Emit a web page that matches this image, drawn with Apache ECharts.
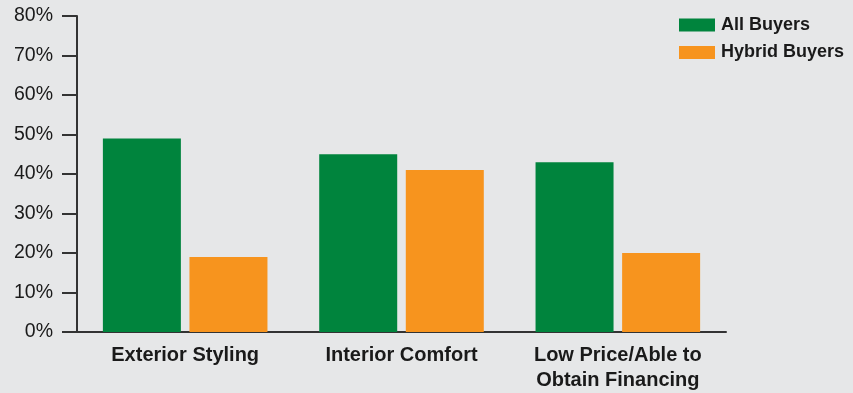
<!DOCTYPE html>
<html><head><meta charset="utf-8">
<script src="https://cdn.jsdelivr.net/npm/echarts@6/dist/echarts.min.js"></script>
<style>html,body{margin:0;padding:0;background:#e6e7e8;}#c{width:853px;height:393px;}</style>
</head><body><div id="c"></div>
<script>
const categories = ['Exterior Styling', 'Interior Comfort', 'Low Price/Able to\nObtain Financing'];
const allBuyers = [49, 45, 43];
const hybridBuyers = [19, 41, 20];
const yTicks = [0, 10, 20, 30, 40, 50, 60, 70, 80];

const chart = echarts.init(document.getElementById('c'));
chart.setOption({
  backgroundColor: '#e6e7e8',
  animation: false,
  grid: { left: 77, right: 127, top: 16, bottom: 57 },
  legend: {
    left: 674, top: 11, orient: 'vertical',
    itemWidth: 36, itemHeight: 13, itemGap: 9.5,
    icon: 'rect',
    textStyle: { fontFamily: 'Liberation Sans', fontWeight: 'bold', fontSize: 18, color: '#1a1a1a', padding: [0,0,0,1] },
    data: ['All Buyers', 'Hybrid Buyers']
  },
  xAxis: {
    type: 'category', data: categories,
    axisTick: { show: false },
    axisLine: { lineStyle: { color: '#333333', width: 2 } },
    axisLabel: { fontFamily: 'Liberation Sans', fontWeight: 'bold', fontSize: 20, color: '#1a1a1a', margin: 11, lineHeight: 25, interval: 0 }
  },
  yAxis: {
    type: 'value', min: yTicks[0], max: yTicks[yTicks.length-1], interval: 10,
    splitLine: { show: false },
    axisLine: { show: true, lineStyle: { color: '#333333', width: 2 } },
    axisTick: { show: true, length: 15, lineStyle: { color: '#333333', width: 2 } },
    axisLabel: { formatter: '{value}%', fontFamily: 'Liberation Sans', fontSize: 19.5, color: '#1a1a1a', margin: 24 }
  },
  series: [
    { name: 'All Buyers', type: 'bar', data: allBuyers, barWidth: 78, barGap: '11%', itemStyle: { color: '#00843d' } },
    { name: 'Hybrid Buyers', type: 'bar', data: hybridBuyers, barWidth: 78, itemStyle: { color: '#f7941e' } }
  ]
});
</script></body></html>
